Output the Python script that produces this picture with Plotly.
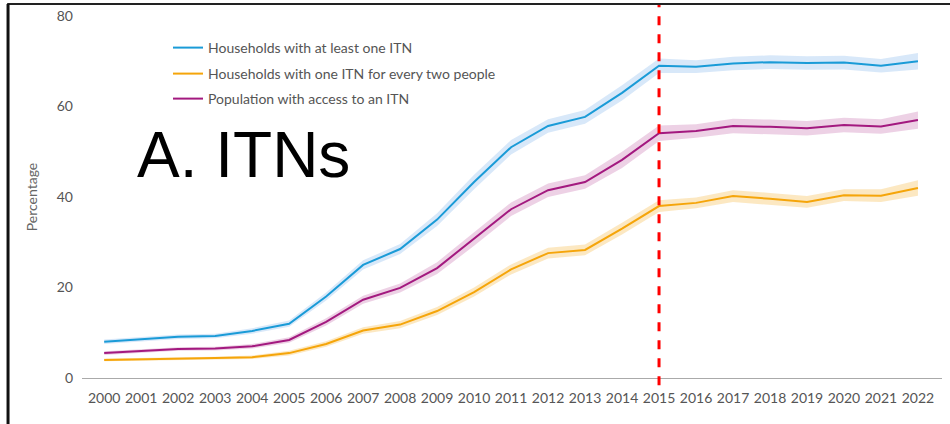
import plotly.graph_objects as go

years = list(range(2000, 2023))
at_least_one = [8.0, 8.6, 9.1, 9.3, 10.4, 12.0, 18.0, 25.0, 28.5, 35.0, 43.3, 51.0, 55.7, 57.7, 63.0,
                69.0, 68.8, 69.5, 69.8, 69.6, 69.7, 69.0, 70.0]
one_per_two = [4.0, 4.1, 4.3, 4.4, 4.6, 5.5, 7.5, 10.5, 11.8, 14.8, 19.0, 24.0, 27.6, 28.3, 33.0,
               38.0, 38.7, 40.2, 39.6, 38.9, 40.4, 40.3, 42.0]
access = [5.5, 6.0, 6.4, 6.5, 7.0, 8.4, 12.4, 17.3, 19.9, 24.3, 30.7, 37.3, 41.5, 43.3, 48.2,
          54.1, 54.6, 55.7, 55.5, 55.2, 55.9, 55.6, 57.0]
half_width_blue = [0.5, 0.5, 0.5, 0.5, 0.6, 0.7, 0.9, 1.0, 1.1, 1.4, 1.6, 1.6, 1.5, 1.5, 1.7,
                   1.6, 1.4, 1.5, 1.5, 1.5, 1.5, 1.5, 1.8]
half_width_orange = [0.3, 0.3, 0.3, 0.3, 0.4, 0.5, 0.6, 0.7, 0.8, 0.9, 1.0, 1.1, 1.2, 1.2, 1.3,
                     1.3, 1.2, 1.3, 1.3, 1.3, 1.3, 1.4, 1.7]
half_width_purple = [0.4, 0.4, 0.4, 0.4, 0.5, 0.6, 0.8, 0.9, 1.0, 1.3, 1.5, 1.5, 1.5, 1.5, 1.8,
                     1.7, 1.5, 1.6, 1.6, 1.6, 1.6, 1.6, 1.9]
series_names = ["Households with at least one ITN",
                "Households with one ITN for every two people",
                "Population with access to an ITN"]
line_colors = ["#1a9bd7", "#f5a50a", "#a3197f"]
band_colors = ["rgba(60,140,225,0.20)", "rgba(245,165,10,0.25)", "rgba(163,25,127,0.20)"]
legend_ids = ["legend", "legend2", "legend3"]
cutoff_year = 2015
y_ticks = [0, 20, 40, 60, 80]

fig = go.Figure()
for vals, hw, bc in zip([at_least_one, one_per_two, access],
                        [half_width_blue, half_width_orange, half_width_purple], band_colors):
    upper = [v + h for v, h in zip(vals, hw)]
    lower = [v - h for v, h in zip(vals, hw)]
    fig.add_trace(go.Scatter(x=years + years[::-1], y=upper + lower[::-1], fill="toself",
                             fillcolor=bc, line=dict(width=0), showlegend=False, hoverinfo="skip"))
for vals, name, lc, lg in zip([at_least_one, one_per_two, access], series_names, line_colors, legend_ids):
    fig.add_trace(go.Scatter(x=years, y=vals, mode="lines", name=name, legend=lg,
                             line=dict(color=lc, width=2)))

fig.add_shape(type="line", xref="x", yref="paper", x0=cutoff_year, x1=cutoff_year,
              y0=-0.02, y1=1.035, line=dict(color="red", width=3, dash="dash"))
# frame
fig.add_shape(type="line", xref="paper", yref="paper", x0=-0.087, x1=1.01, y0=1.033, y1=1.033,
              line=dict(color="#222", width=2))
fig.add_shape(type="line", xref="paper", yref="paper", x0=-0.086, x1=-0.086, y0=-0.13, y1=1.033,
              line=dict(color="#111", width=3))

fig.add_annotation(text="A. ITNs", xref="paper", yref="paper", x=0.062, y=0.615,
                   xanchor="left", yanchor="middle", showarrow=False,
                   font=dict(family="Liberation Sans, Arial", size=64, color="black"))

legend_style = dict(xanchor="left", yanchor="middle", bgcolor="rgba(0,0,0,0)",
                    font=dict(size=14, color="#555"), itemwidth=30, x=0.1)
fig.update_layout(
    width=950, height=424,
    margin=dict(l=82, r=8, t=16, b=46),
    paper_bgcolor="white", plot_bgcolor="white",
    font=dict(family="Lato, Open Sans, sans-serif", size=14, color="#555"),
    legend=dict(y=0.9116, **legend_style),
    legend2=dict(y=0.8398, **legend_style),
    legend3=dict(y=0.7707, **legend_style),
    xaxis=dict(range=[1999.4, 2022.65], tickmode="array", tickvals=years,
               ticktext=[str(y) for y in years], showgrid=False, zeroline=False,
               showline=True, linecolor="#aaa", linewidth=1, ticks="", ticklabelstandoff=7,
               tickfont=dict(size=14, color="#555")),
    yaxis=dict(range=[0, 80], tickvals=y_ticks, showgrid=False, zeroline=False,
               showline=False, ticks="", ticklabelstandoff=8,
               title=dict(text="Percentage", font=dict(size=14, color="#666"), standoff=15),
               tickfont=dict(size=14, color="#555")),
    showlegend=True,
)
fig.write_html("out.html")
